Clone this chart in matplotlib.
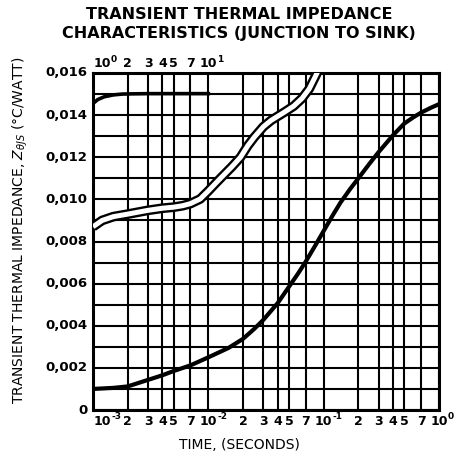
import matplotlib
matplotlib.use('Agg')
import matplotlib.pyplot as plt
import matplotlib.transforms as mtrans

# ---- data ----
main_t = [1e-3, 1.5e-3, 2e-3, 3e-3, 4e-3, 5e-3, 7e-3, 1e-2, 1.5e-2, 2e-2,
          2.5e-2, 3e-2, 4e-2, 5e-2, 6e-2, 7e-2, 8.5e-2, 1e-1, 1.2e-1, 1.4e-1,
          1.7e-1, 2e-1, 2.5e-1, 3e-1, 4e-1, 5e-1, 6e-1, 7e-1, 8.5e-1, 1.0]
main_z = [0.00100, 0.00105, 0.00112, 0.00143, 0.00165, 0.00185, 0.00212, 0.00250, 0.00295, 0.00338,
          0.00385, 0.00428, 0.00508, 0.00585, 0.00648, 0.00705, 0.00783, 0.00850, 0.00925, 0.00985,
          0.01050, 0.01100, 0.01170, 0.01225, 0.01305, 0.01360, 0.01390, 0.01412, 0.01435, 0.01452]

ribbon_t = [1e-3, 1.2e-3, 1.5e-3, 2e-3, 2.5e-3, 3e-3, 4e-3, 5e-3, 6e-3, 7e-3,
            8.5e-3, 1e-2, 1.15e-2, 1.3e-2, 1.6e-2, 1.9e-2, 2.2e-2, 2.5e-2, 3e-2, 3.5e-2,
            4.5e-2, 5.5e-2, 6.5e-2, 7.5e-2, 8.5e-2, 9.5e-2]
ribbon_z = [0.00870, 0.00900, 0.00918, 0.00930, 0.00940, 0.00948, 0.00958, 0.00963, 0.00970, 0.00980,
            0.01002, 0.01040, 0.01075, 0.01105, 0.01155, 0.01200, 0.01255, 0.01295, 0.01345, 0.01375,
            0.01412, 0.01443, 0.01480, 0.01525, 0.01585, 0.01640]

long_t = [1.0, 1.1, 1.25, 1.5, 1.8, 2.2, 3, 4, 5, 7, 10]
long_z = [0.01455, 0.01474, 0.01487, 0.01496, 0.01500, 0.01501, 0.01502, 0.01502, 0.01502, 0.01502, 0.01502]

decades = [1e-3, 1e-2, 1e-1, 1.0]
bottom_exponents = ['-3', '-2', '-1', '0']
grid_mult = [1, 2, 3, 4, 5, 7]
mult_labels = ['2', '3', '4', '5', '7']
top_decades = [1.0, 10.0]
top_exponents = ['0', '1']
y_ticks = [0.0, 0.002, 0.004, 0.006, 0.008, 0.010, 0.012, 0.014, 0.016]
y_ticklabels = ['0', '0,002', '0,004', '0,006', '0,008', '0,010', '0,012', '0,014', '0,016']

title_lines = ['TRANSIENT THERMAL IMPEDANCE', 'CHARACTERISTICS (JUNCTION TO SINK)']
xlabel = 'TIME, (SECONDS)'
ylabel = r'TRANSIENT THERMAL IMPEDANCE, $Z_{\theta JS}$ ($\degree$C/WATT)'

# ---- figure ----
plt.rcParams['font.family'] = ['DejaVu Sans']
plt.rcParams['mathtext.fontset'] = 'dejavusans'
W, H = 456, 462
fig = plt.figure(figsize=(W / 100, H / 100), dpi=100)
ax = fig.add_axes([93 / W, 1 - 410 / H, 346 / W, 337 / H])
ax.set_xscale('log')
ax.set_xlim(1e-3, 1.0)
ax.set_ylim(0, 0.016)

# grid lines
vlines = [d * m for d in decades[:3] for m in grid_mult] + [1.0]
for v in vlines:
    ax.axvline(v, color='black', lw=1.5, zorder=1)
for k in range(17):
    ax.axhline(k * 0.001, color='black', lw=1.5, zorder=1)

for s in ax.spines.values():
    s.set_linewidth(2.2)
ax.set_xticks([])
ax.set_yticks([])
ax.minorticks_off()

# curves
ax.plot(main_t, main_z, color='black', lw=3.0, solid_capstyle='butt', zorder=3)
ax.plot(ribbon_t, ribbon_z, color='black', lw=7.0, solid_capstyle='butt', zorder=3)
ax.plot(ribbon_t, ribbon_z, color='white', lw=3.6, solid_capstyle='butt', zorder=4)

ax2 = ax.twiny()
ax2.set_xscale('log')
ax2.set_xlim(1.0, 1000.0)
ax2.set_xticks([])
ax2.minorticks_off()
ax2.plot(long_t, long_z, color='black', lw=2.6, zorder=3)
ax2.set_ylim(0, 0.016)
for s in ax2.spines.values():
    s.set_visible(False)

# tick labels
fs = 9.0
sfs = 6.5
half10 = fs * 0.696  # half width of "10" in points


def off(dx, dy):
    return mtrans.ScaledTranslation(dx / 72, dy / 72, fig.dpi_scale_trans)


def pow_label(axis, trans, x, yfrac, exp, first, top):
    base_dx = 0.3 if first else -half10
    if top:
        y10, ysup, va = 2.0, 6.5, 'bottom'
    else:
        y10, ysup, va = -3.5, -1.5, 'top'
    axis.text(x, yfrac, '10', transform=trans + off(base_dx, y10), ha='left', va=va,
              fontsize=fs, fontweight='bold')
    axis.text(x, yfrac, exp, transform=trans + off(base_dx + 2 * half10 + 0.2, ysup), ha='left',
              va=va, fontsize=sfs, fontweight='bold')


bx = mtrans.blended_transform_factory(ax.transData, ax.transAxes)
for i, (d, e) in enumerate(zip(decades, bottom_exponents)):
    pow_label(ax, bx, d, 0, e, i == 0, False)
    if i < 3:
        for m, ml in zip(grid_mult[1:], mult_labels):
            ax.text(d * m, 0, ml, transform=bx + off(0, -3.5), ha='center', va='top',
                    fontsize=fs, fontweight='bold')

bx2 = mtrans.blended_transform_factory(ax2.transData, ax2.transAxes)
for i, (d, e) in enumerate(zip(top_decades, top_exponents)):
    pow_label(ax2, bx2, d, 1, e, i == 0, True)
for m, ml in zip(grid_mult[1:], mult_labels):
    ax2.text(m, 1, ml, transform=bx2 + off(0, 2), ha='center', va='bottom', fontsize=fs, fontweight='bold')

by = mtrans.blended_transform_factory(ax.transAxes, ax.transData)
for v, lab in zip(y_ticks, y_ticklabels):
    ax.text(0, v, lab, transform=by + off(-4, 0), ha='right', va='center', fontsize=9.5, fontweight='bold')

# titles and axis labels
fig.text(239 / W, 1 - 14.5 / H, title_lines[0], ha='center', va='center', fontsize=11.5, fontweight='heavy')
fig.text(239 / W, 1 - 33.5 / H, title_lines[1], ha='center', va='center', fontsize=11.5, fontweight='heavy')
fig.text(239 / W, 1 - 445 / H, xlabel, ha='center', va='center', fontsize=10.0)
fig.text(20 / W, 1 - 230 / H, ylabel, ha='center', va='center', rotation=90, fontsize=10.0)

fig.savefig('out.png', dpi=100)
